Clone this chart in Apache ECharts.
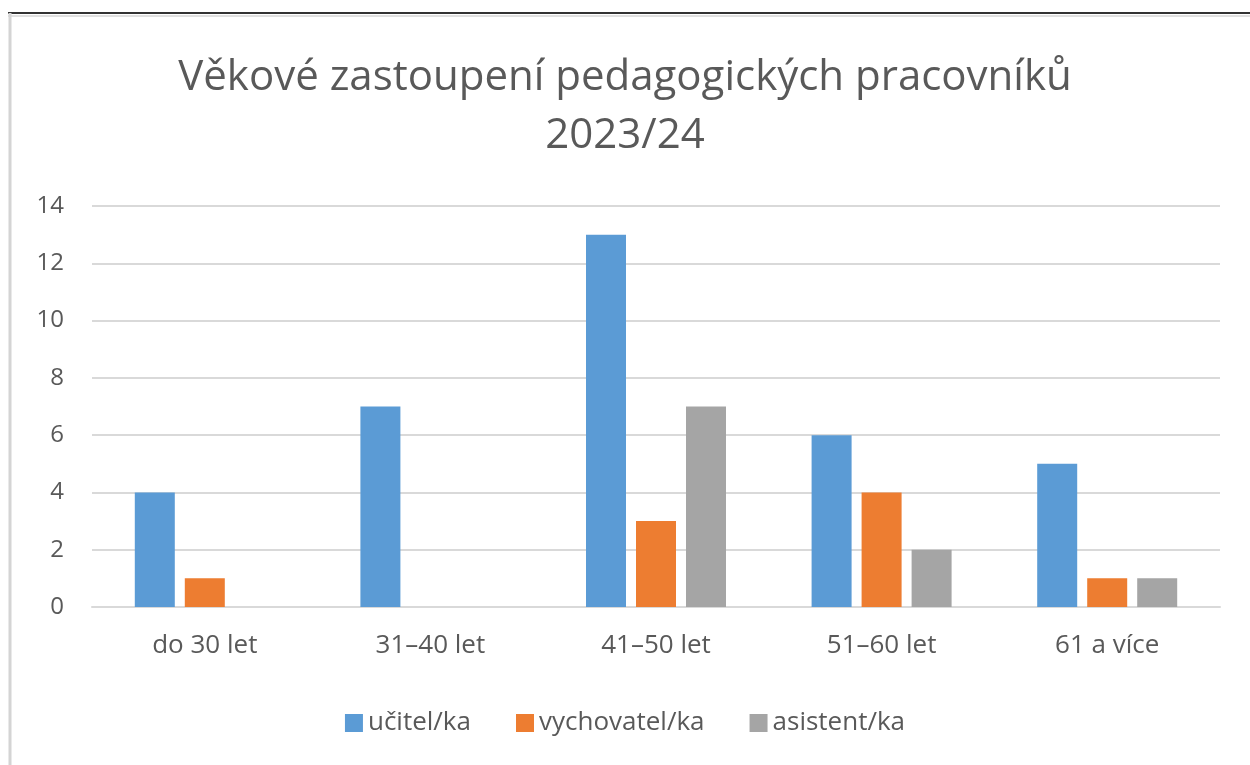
<!DOCTYPE html>
<html>
<head>
<meta charset="utf-8">
<script src="https://cdn.jsdelivr.net/npm/echarts@6/dist/echarts.min.js"></script>
<style>
  html, body { margin: 0; padding: 0; background: #fff; }
  #main { width: 1250px; height: 765px; }
</style>
</head>
<body>
<div id="main"></div>
<script>
// data
const kategorie = ['do 30 let', '31–40 let', '41–50 let', '51–60 let', '61 a více'];
const ucitel = [4, 7, 13, 6, 5];
const vychovatel = [1, 0, 3, 4, 1];
const asistent = [0, 0, 7, 2, 1];

const font = 'Open Sans';
const textColor = '#595959';

let myChart = echarts.init(document.getElementById('main'));

let option = {
  backgroundColor: '#fff',
  textStyle: { fontFamily: font },
  title: {
    text: 'Věkové zastoupení pedagogických pracovníků\n2023/24',
    left: 'center',
    top: 44,
    textStyle: {
      fontFamily: font,
      fontSize: 42,
      fontWeight: 'normal',
      color: textColor,
      lineHeight: 58
    }
  },
  legend: {
    top: 705,
    left: 'center',
    itemWidth: 18,
    itemHeight: 18,
    itemGap: 45,
    icon: 'rect',
    textStyle: { fontFamily: font, fontSize: 26, color: textColor }
  },
  grid: {
    left: 92,
    right: 30,
    top: 206,
    bottom: 158
  },
  xAxis: {
    type: 'category',
    data: kategorie,
    axisTick: { show: false },
    axisLine: { lineStyle: { color: '#d9d9d9', width: 2 } },
    axisLabel: { fontSize: 26, color: textColor, margin: 26, fontFamily: font }
  },
  yAxis: {
    type: 'value',
    min: 0,
    max: 14,
    interval: 2,
    axisLine: { show: false },
    axisTick: { show: false },
    axisLabel: { fontSize: 24, color: textColor, margin: 28, fontFamily: font },
    splitLine: { lineStyle: { color: '#d9d9d9', width: 2 } }
  },
  series: [
    {
      name: 'učitel/ka',
      type: 'bar',
      data: ucitel,
      barWidth: 40,
      barGap: '25%',
      itemStyle: { color: '#5B9BD5' }
    },
    {
      name: 'vychovatel/ka',
      type: 'bar',
      data: vychovatel,
      barWidth: 40,
      itemStyle: { color: '#ED7D31' }
    },
    {
      name: 'asistent/ka',
      type: 'bar',
      data: asistent,
      barWidth: 40,
      itemStyle: { color: '#A5A5A5' }
    }
  ],
  graphic: [
    {
      type: 'line',
      shape: { x1: 8, y1: 13, x2: 1250, y2: 13 },
      style: { stroke: '#333', lineWidth: 2 }
    },
    {
      type: 'line',
      shape: { x1: 8, y1: 16, x2: 1250, y2: 16 },
      style: { stroke: '#e0e0e0', lineWidth: 2 }
    },
    {
      type: 'line',
      shape: { x1: 10, y1: 13, x2: 10, y2: 765 },
      style: { stroke: '#d4d4d4', lineWidth: 3 }
    }
  ]
};

myChart.setOption(option);
</script>
</body>
</html>
